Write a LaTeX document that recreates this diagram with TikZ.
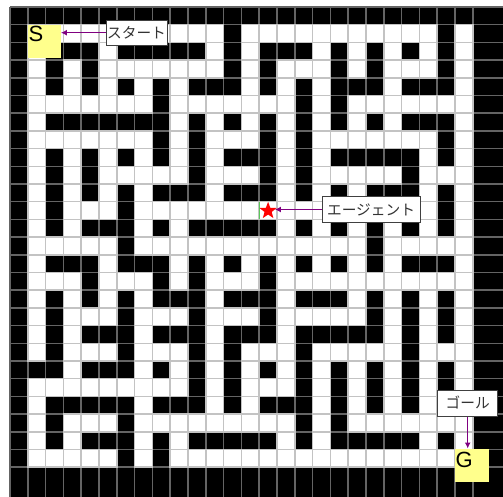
\documentclass[tikz,border=0pt]{standalone}
\usepackage{fontspec}
\setmainfont{Liberation Sans}
\newfontfamily\jpfont{Noto Sans CJK JP}
\usetikzlibrary{shapes.geometric,arrows.meta}
\definecolor{arrowpurple}{RGB}{128,0,128}
\definecolor{darkgrid}{RGB}{100,100,100}
\definecolor{lightgrid}{RGB}{195,195,195}
\definecolor{markyellow}{RGB}{255,255,140}
\definecolor{edgegreen}{RGB}{90,200,90}
\newcount\mzc
\newcount\mzr
\def\mzrow#1{\mzc=0 \mzparse#1\relax\global\advance\mzr by 1\relax}
\def\mzparse#1{\ifx#1\relax\else\if0#1\path[opencell] ({10+17.8*\the\mzc},{7+17.7*\the\mzr}) rectangle ({10+17.8*(\the\mzc+1)},{7+17.7*(\the\mzr+1)});\fi\advance\mzc by 1\relax\expandafter\mzparse\fi}
\tikzset{
  opencell/.style={fill=white, draw=lightgrid, line width=1.5pt},
  gridln/.style={draw=darkgrid, line width=1.5pt},
  lbl/.style={draw=black!75, fill=white, line width=1pt, inner sep=0pt, text=black!80, font=\jpfont\fontsize{14.7}{15}\selectfont},
  markbox/.style={fill=markyellow, draw=none, inner sep=0pt, anchor=north west},
  marktext/.style={inner sep=0pt, anchor=base west, font=\fontsize{22}{22}\selectfont},
  arr/.style={draw=arrowpurple, line width=1.5pt, -{Latex[length=6pt,width=6pt]}}
}
\begin{document}
\begin{tikzpicture}[x=1pt,y=-1pt]
\useasboundingbox (0,0) rectangle (503,497);
\fill[white] (0,0) rectangle (503,497);
\fill[black] (10,7) rectangle (503,497);
\foreach \k in {0,...,26} {\draw[gridln] ({10+17.8*\k},7) -- ({10+17.8*\k},497);}
\foreach \k in {0,...,26} {\draw[gridln] (10,{7+17.7*\k}) -- (503,{7+17.7*\k});}
\global\mzr=0
\mzrow{111111111111111111111111111}
\mzrow{100000000000100000000000101}
\mzrow{101110111110101110101010101}
\mzrow{101010000000101000101000101}
\mzrow{101010101011101010111011101}
\mzrow{100000001000000010100000001}
\mzrow{101111111010101010101011101}
\mzrow{100000001010001010000000101}
\mzrow{101010101010111010111110101}
\mzrow{101010000010001010000010001}
\mzrow{101010101110111010101110101}
\mzrow{101000100000000000000000101}
\mzrow{101011101011111010101010101}
\mzrow{100000100000000000001000001}
\mzrow{101110111010101010101011101}
\mzrow{100010001010001000000000001}
\mzrow{101010101110111011101010101}
\mzrow{101000100010001000001010101}
\mzrow{101011101110111011111010101}
\mzrow{101000100010100010000010001}
\mzrow{111011101010101010101010101}
\mzrow{100000000010100010101010101}
\mzrow{101111101110101110101010101}
\mzrow{101000100000000010100000001}
\mzrow{101011101011111010111110101}
\mzrow{100000101000000000000000001}
% start and goal marks
\node[markbox, minimum width=32.5pt, minimum height=32.5pt] (sbox) at (28,25) {};
\node[marktext] (stext) at (28.5,41.7) {S};
\node[markbox, minimum width=34pt, minimum height=33pt] (gbox) at (454.5,448.5) {};
\node[marktext] (gtext) at (455.5,467.3) {G};
% agent
\draw[edgegreen, line width=0.8pt] (259.6,202) -- (259.6,218.5);
\node[star, star points=5, star point ratio=2.4, fill=red, draw=none, minimum size=18pt, inner sep=0pt] (agent) at (268.1,210.8) {};
% labels
\node[lbl, minimum width=61pt, minimum height=25pt] (startlbl) at (136.5,32.7) {スタート};
\node[lbl, minimum width=98pt, minimum height=25pt] (agentlbl) at (371,209.5) {エージェント};
\node[lbl, minimum width=60pt, minimum height=26pt] (goallbl) at (467.7,403) {ゴール};
% arrows
\draw[arr] (startlbl.west) -- (startlbl.west -| sbox.east);
\draw[arr, shorten >=1.5pt] (agentlbl.west) -- (agentlbl.west -| agent.east);
\draw[arr] (goallbl.south) -- (goallbl.south |- gbox.north);
\end{tikzpicture}
\end{document}
